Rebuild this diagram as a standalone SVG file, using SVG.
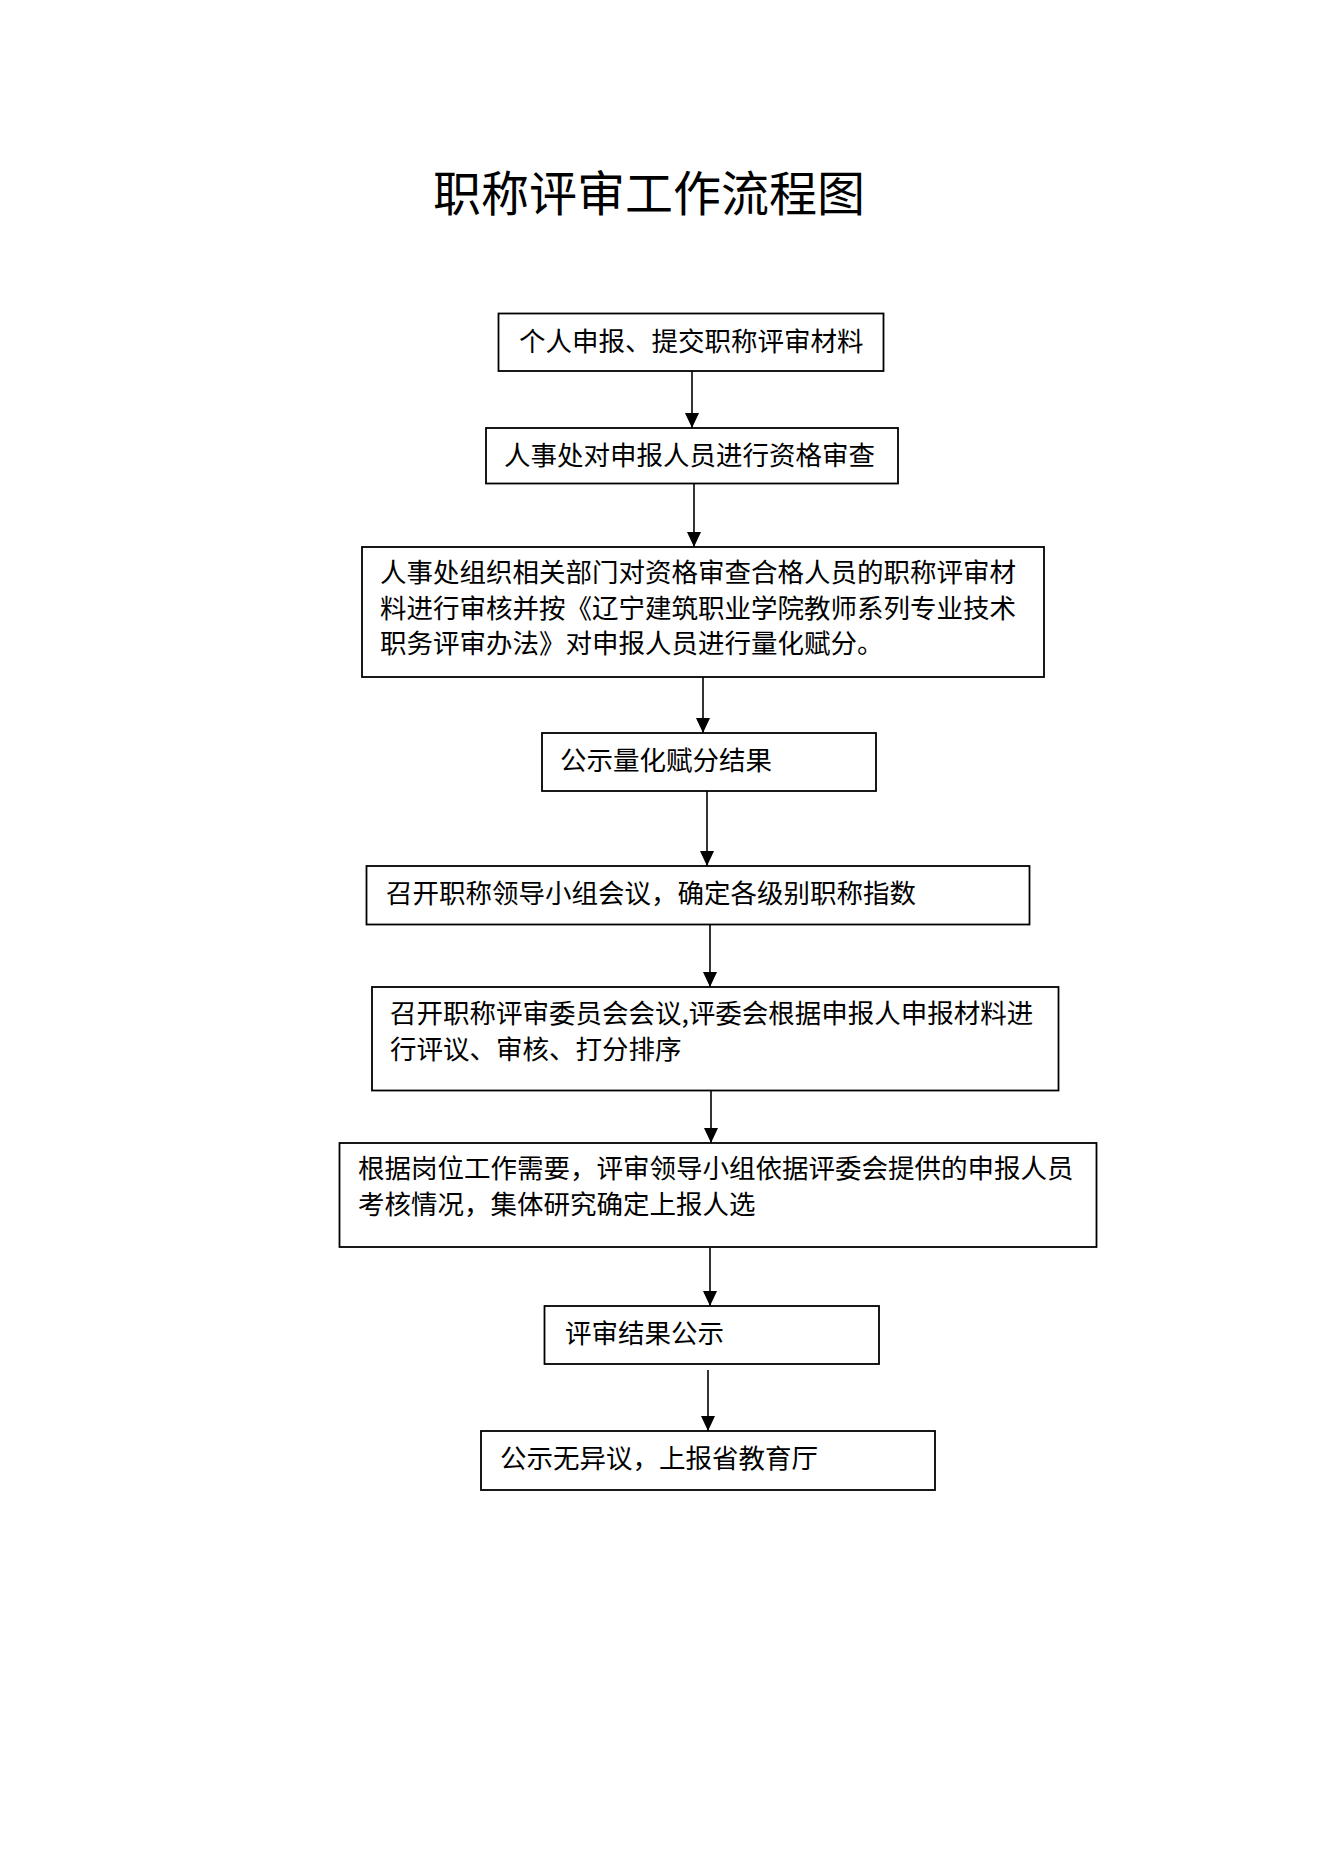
<svg xmlns="http://www.w3.org/2000/svg" width="1322" height="1871" viewBox="0 0 1322 1871">
  <defs>
    <style>
      .box { fill: #ffffff; stroke: #000000; stroke-width: 1.8; }
      .t { font-family: "Noto Sans CJK SC", "Noto Sans", sans-serif; font-size: 26.5px; fill: #000000; }
      .title { font-family: "Noto Sans CJK SC", "Noto Sans", sans-serif; font-size: 48px; fill: #000000; }
      .conn { stroke: #000000; stroke-width: 1.6; fill: none; marker-end: url(#arrow); }
    </style>
    <marker id="arrow" markerUnits="userSpaceOnUse" markerWidth="16" markerHeight="16" viewBox="0 0 16 16" refX="15" refY="8" orient="auto">
      <path d="M0,1 L15,8 L0,15 Z" fill="#000000"/>
    </marker>
  </defs>
  <rect width="1322" height="1871" fill="#ffffff"/>

  <text class="title" x="433" y="211">职称评审工作流程图</text>

  <g id="connectors">
    <line class="conn" x1="692" y1="371" x2="692" y2="428"/>
    <line class="conn" x1="694" y1="484" x2="694" y2="547"/>
    <line class="conn" x1="703" y1="677" x2="703" y2="733"/>
    <line class="conn" x1="707" y1="791" x2="707" y2="866"/>
    <line class="conn" x1="710" y1="925" x2="710" y2="987"/>
    <line class="conn" x1="711" y1="1091" x2="711" y2="1143"/>
    <line class="conn" x1="710" y1="1248" x2="710" y2="1306"/>
    <line class="conn" x1="708" y1="1370" x2="708" y2="1431"/>
  </g>

  <g id="n1">
    <rect class="box" x="498.5" y="313.5" width="385" height="57.5"/>
    <text class="t" x="519" y="351">个人申报、提交职称评审材料</text>
  </g>
  <g id="n2">
    <rect class="box" x="486" y="428" width="412" height="55.5"/>
    <text class="t" x="504" y="465">人事处对申报人员进行资格审查</text>
  </g>
  <g id="n3">
    <rect class="box" x="362" y="547" width="682" height="130"/>
    <text class="t" x="380" y="582"><tspan x="380" y="582">人事处组织相关部门对资格审查合格人员的职称评审材</tspan><tspan x="380" y="617.5">料进行审核并按《辽宁建筑职业学院教师系列专业技术</tspan><tspan x="380" y="653">职务评审办法》对申报人员进行量化赋分。</tspan></text>
  </g>
  <g id="n4">
    <rect class="box" x="542" y="733" width="334" height="58"/>
    <text class="t" x="560" y="770">公示量化赋分结果</text>
  </g>
  <g id="n5">
    <rect class="box" x="366.5" y="866" width="663" height="58.5"/>
    <text class="t" x="386" y="903">召开职称领导小组会议，确定各级别职称指数</text>
  </g>
  <g id="n6">
    <rect class="box" x="372" y="987" width="686.5" height="103.5"/>
    <text class="t" x="390" y="1023"><tspan x="390" y="1023">召开职称评审委员会会议,评委会根据申报人申报材料进</tspan><tspan x="390" y="1059">行评议、审核、打分排序</tspan></text>
  </g>
  <g id="n7">
    <rect class="box" x="339.5" y="1143" width="757" height="104"/>
    <text class="t" x="358" y="1178"><tspan x="358" y="1178">根据岗位工作需要，评审领导小组依据评委会提供的申报人员</tspan><tspan x="358" y="1214">考核情况，集体研究确定上报人选</tspan></text>
  </g>
  <g id="n8">
    <rect class="box" x="544.5" y="1306" width="334.5" height="58"/>
    <text class="t" x="565" y="1343">评审结果公示</text>
  </g>
  <g id="n9">
    <rect class="box" x="481" y="1431" width="454" height="59"/>
    <text class="t" x="500" y="1468">公示无异议，上报省教育厅</text>
  </g>
</svg>
